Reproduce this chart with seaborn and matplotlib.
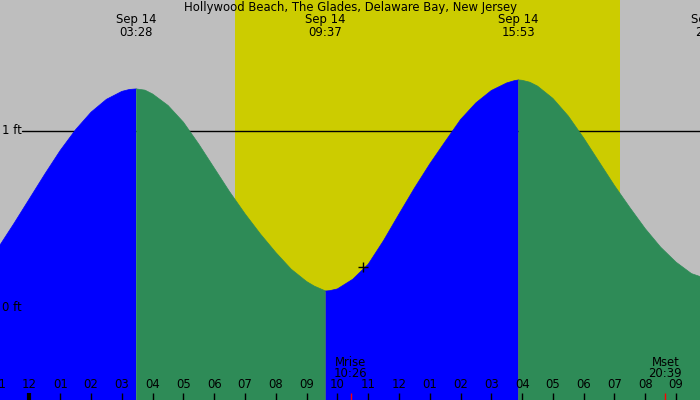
import numpy as np
import pandas as pd
import matplotlib
matplotlib.use('Agg')
import matplotlib.pyplot as plt
import matplotlib.transforms as mtransforms
import seaborn as sns

# tide curve (hours from midnight Sep 14, feet)
hours = [-1.0, -0.5, 0.0, 0.5, 1.0, 1.5, 2.0, 2.5, 3.0, 3.25, 3.467, 3.75,
         4.0, 4.5, 5.0, 5.5, 6.0, 6.5, 7.0, 7.5, 8.0, 8.5, 9.0, 9.25, 9.5, 9.617, 9.75,
         10.0, 10.5, 11.0, 11.5, 12.0, 12.5, 13.0, 13.5, 14.0, 14.5, 15.0, 15.5, 15.75, 15.883,
         16.0, 16.25, 16.5, 17.0, 17.5, 18.0, 18.5, 19.0, 19.5, 20.0, 20.5, 21.0, 21.5, 22.0, 22.15]
heights = [0.341, 0.476, 0.616, 0.756, 0.890, 1.008, 1.107, 1.180, 1.225, 1.236, 1.239, 1.232,
           1.21, 1.145, 1.05, 0.925, 0.79, 0.655, 0.53, 0.415, 0.31, 0.215, 0.145, 0.119, 0.100, 0.091, 0.093,
           0.103, 0.158, 0.243, 0.378, 0.528, 0.675, 0.813, 0.94, 1.065, 1.16, 1.23, 1.273, 1.286, 1.290,
           1.288, 1.277, 1.255, 1.185, 1.085, 0.96, 0.825, 0.69, 0.565, 0.445, 0.34, 0.255, 0.19, 0.16, 0.155]

# high / low tides
extreme_hours = [3.467, 9.617, 15.883, 22.15]
extreme_dates = ['Sep 14', 'Sep 14', 'Sep 14', 'Sep 14']
extreme_times = ['03:28', '09:37', '15:53', '22:09']

# sun and moon
sunrise = 6.674
sunset = 19.178
moon_hours = [10.433, 20.65]
moon_names = ['Mrise', 'Mset']
moon_times = ['10:26', '20:39']

now_hour = 10.84
now_height = 0.225

tick_hours = list(range(-1, 22))
tick_labels = ['11', '12', '01', '02', '03', '04', '05', '06', '07', '08', '09', '10',
               '11', '12', '01', '02', '03', '04', '05', '06', '07', '08', '09']

title = 'Hollywood Beach, The Glades, Delaware Bay, New Jersey'

sns.set_style('white')
plt.rcParams['font.family'] = ['DejaVu Sans']
plt.rcParams['text.color'] = 'black'

df = pd.DataFrame({'hour': hours, 'height': heights})

fig = plt.figure(figsize=(7, 4), dpi=100)
ax = fig.add_axes([0, 0, 1, 1])
ax.set_facecolor('#bebebe')
for s in ax.spines.values():
    s.set_visible(False)
ax.set_xticks([])
ax.set_yticks([])

x0, x1 = -0.958, 21.777
y0, y1 = -0.528, 1.744
ax.set_xlim(x0, x1)
ax.set_ylim(y0, y1)

ax.axvspan(sunrise, sunset, color='#cccc00', lw=0, zorder=0)

xt = mtransforms.blended_transform_factory(ax.transAxes, ax.transData)
ax.plot([22 / 700, 1], [1, 1], color='black', lw=1, transform=xt, zorder=1)

# fill between extremes: blue rising, green falling
bounds = [hours[0]] + extreme_hours
for a, b in zip(bounds[:-1], bounds[1:]):
    seg = df[(df.hour >= a) & (df.hour <= b)]
    rising = seg.height.iloc[-1] > seg.height.iloc[0]
    col = '#0000ff' if rising else '#2e8b57'
    ax.fill_between(seg.hour, y0 - 1, seg.height, color=col, lw=0, zorder=2)
    sns.lineplot(data=seg, x='hour', y='height', color=col, lw=0.5, ax=ax, zorder=2, sort=False)

ax.plot([now_hour], [now_height], marker='+', color='black', ms=7, mew=1, zorder=4)

fs = 8.4
ax.text(2 / 700, 1.0, '1 ft', transform=xt, ha='left', va='center', fontsize=fs, zorder=5)
ax.text(2 / 700, 0.0, '0 ft', transform=xt, ha='left', va='center', fontsize=fs, zorder=5)

tt = ax.get_xaxis_transform()
ax.text(350 / 700, 1 - 7 / 400, title, transform=ax.transAxes, ha='center', va='center', fontsize=fs, zorder=5)
for h, d, t in zip(extreme_hours, extreme_dates, extreme_times):
    ax.text(h, 1 - 20 / 400, d, transform=tt, ha='center', va='center', fontsize=fs, zorder=5)
    ax.text(h, 1 - 32 / 400, t, transform=tt, ha='center', va='center', fontsize=fs, zorder=5)

for h, lab in zip(tick_hours, tick_labels):
    ax.text(h, 15 / 400, lab, transform=tt, ha='center', va='center', fontsize=fs, zorder=5)
    w = 3 if lab == '12' and h == 0 else 1
    ax.vlines(h, 0, 7 / 400, transform=tt, color='black', lw=w, zorder=5)

for h, n, t in zip(moon_hours, moon_names, moon_times):
    ax.text(h, 38 / 400, n, transform=tt, ha='center', va='center', fontsize=fs, zorder=5)
    ax.text(h, 26.5 / 400, t, transform=tt, ha='center', va='center', fontsize=fs, zorder=5)
    ax.vlines(h, 0, 7 / 400, transform=tt, color='red', lw=1, zorder=5)

fig.savefig('out.png', dpi=100)
